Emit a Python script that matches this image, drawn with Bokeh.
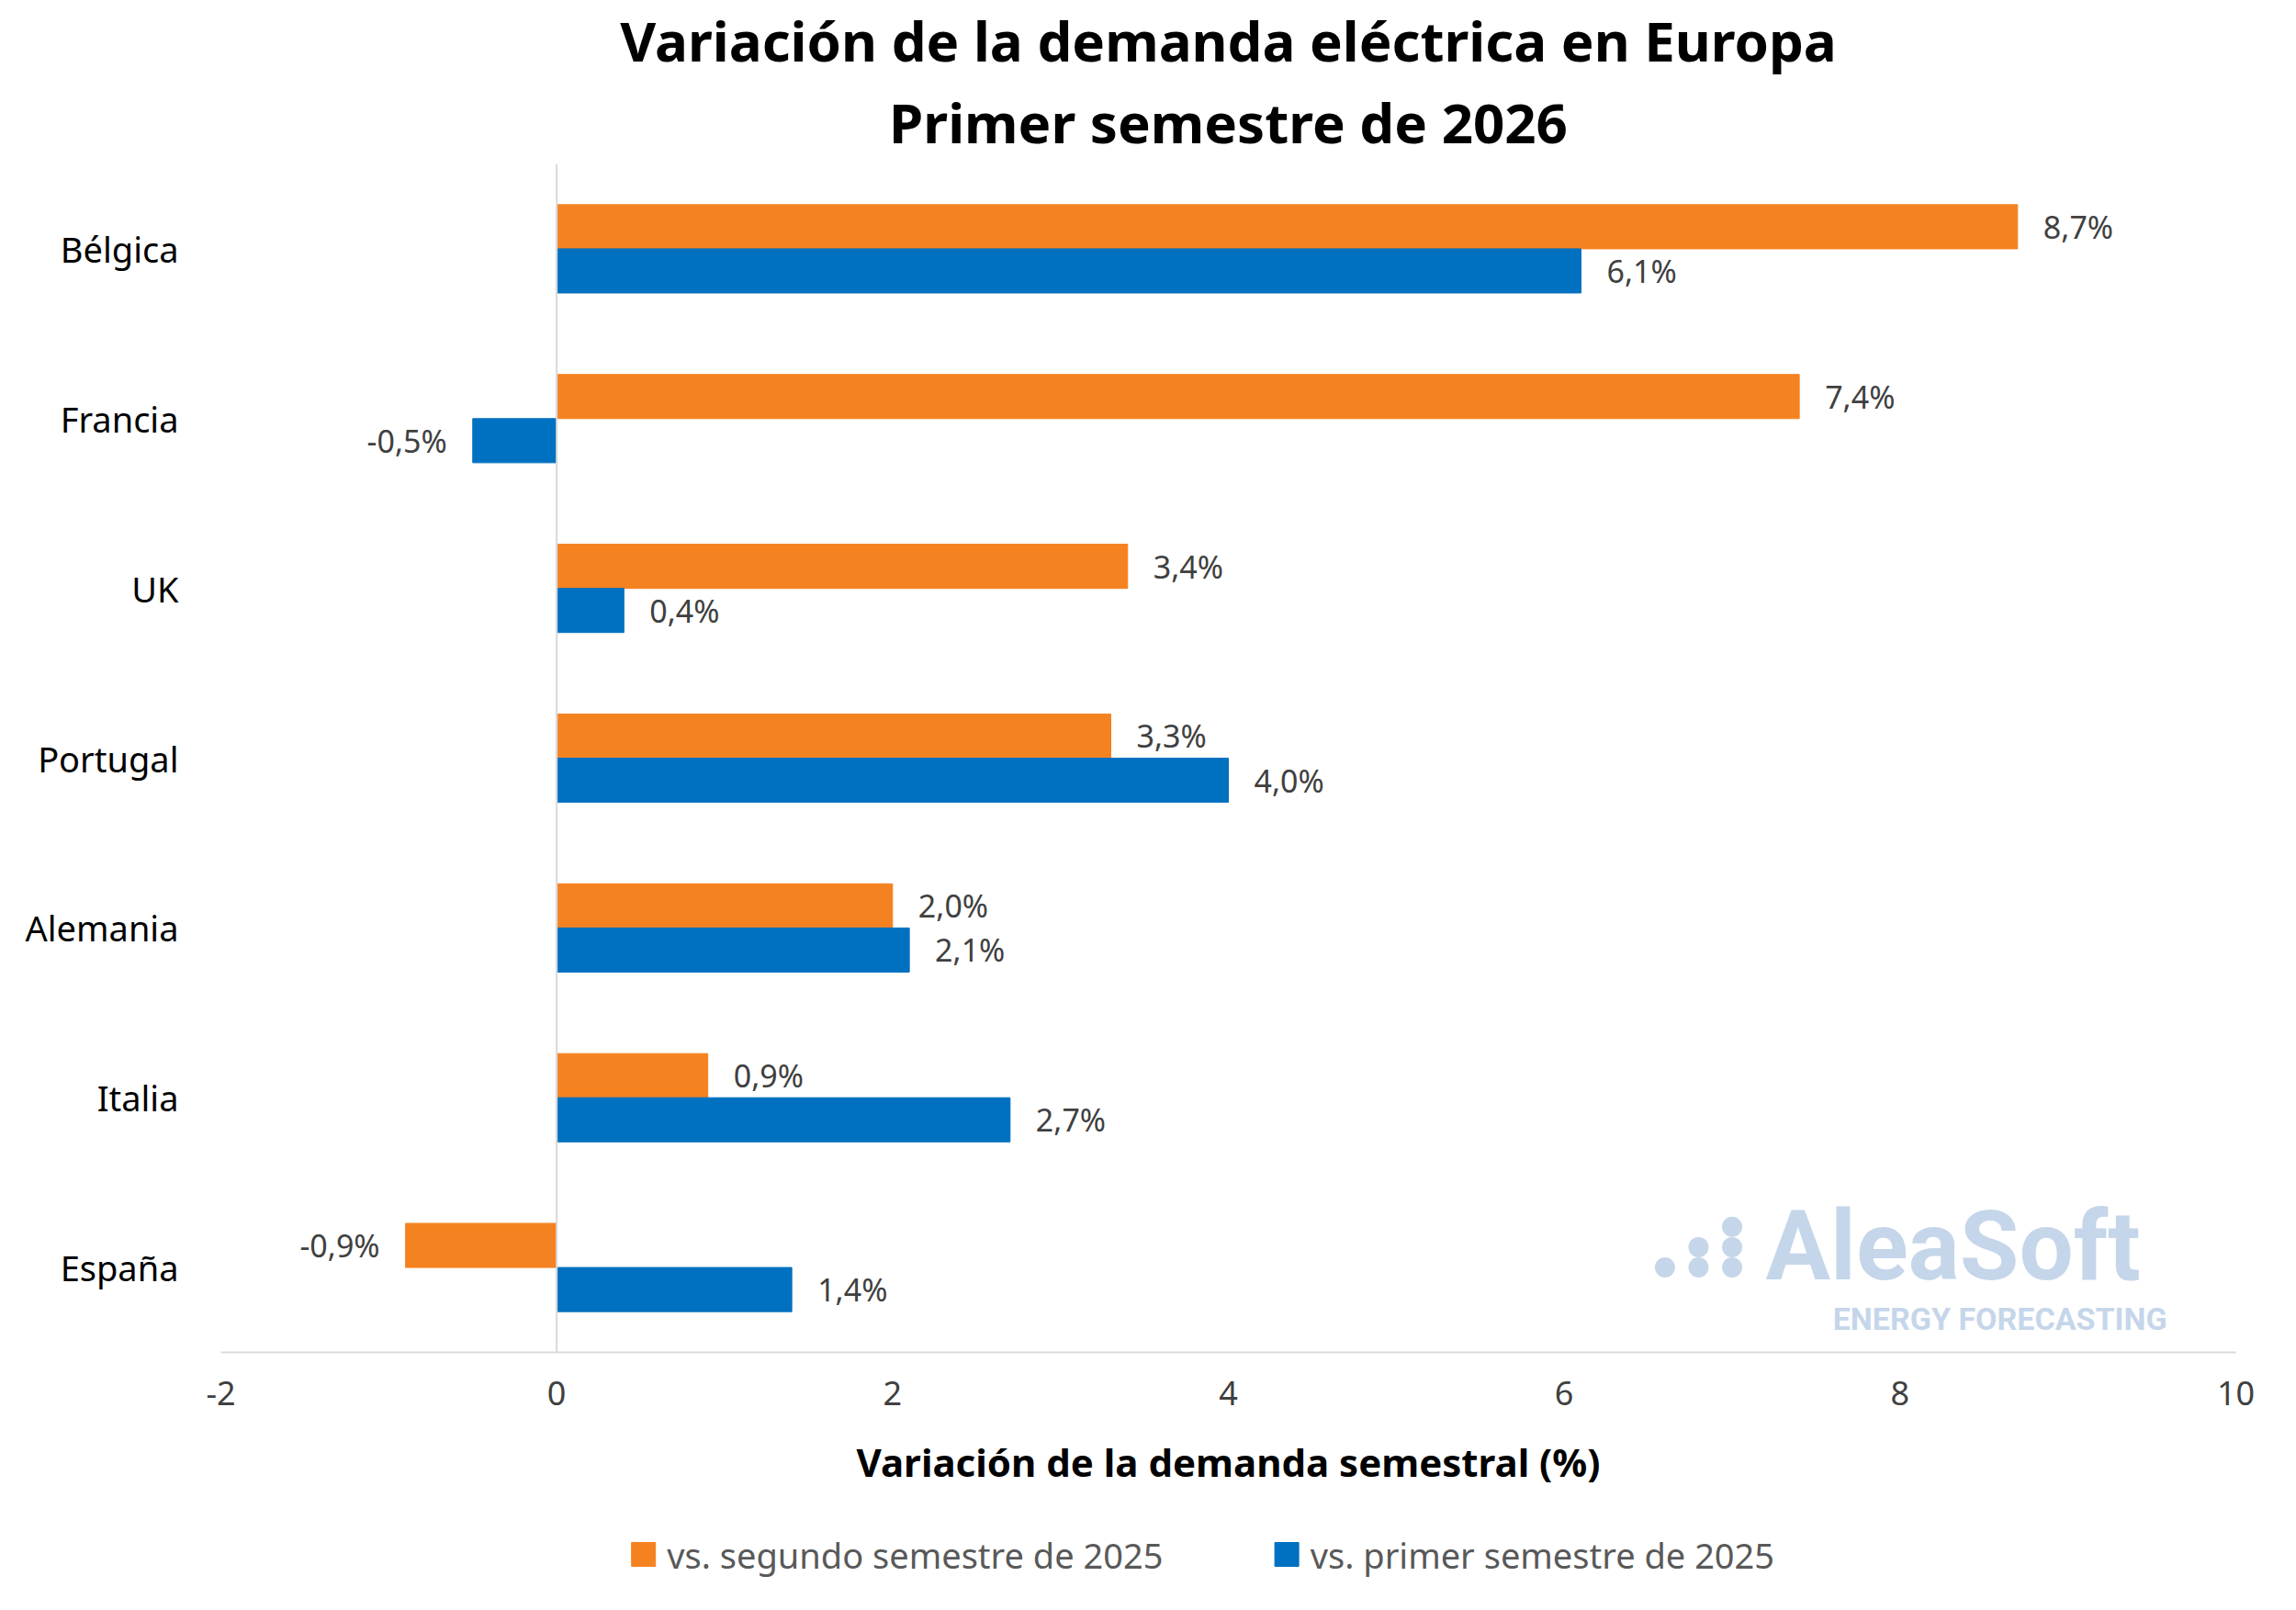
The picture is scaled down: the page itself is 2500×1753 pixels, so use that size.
from bokeh.plotting import figure
from bokeh.models import ColumnDataSource, Span, Label, Title
from bokeh.layouts import column
from bokeh.transform import dodge
from bokeh.core.properties import value
from bokeh.embed import file_html
from bokeh.resources import INLINE

countries = ["España", "Italia", "Alemania", "Portugal", "UK", "Francia", "Bélgica"]
vs_s2_2025 = [-0.9, 0.9, 2.0, 3.3, 3.4, 7.4, 8.7]
vs_s1_2025 = [1.4, 2.7, 2.1, 4.0, 0.4, -0.5, 6.1]
series_names = ["vs. segundo semestre de 2025", "vs. primer semestre de 2025"]
orange = "#F58220"
blue = "#0070C0"
FONT = "Noto Sans"

def fmt(v):
    return ("%.1f%%" % v).replace(".", ",")

p = figure(width=2484, height=1647, y_range=countries, x_range=(-2, 10),
           output_backend="svg", toolbar_location=None,
           min_border_left=240, min_border_right=50, min_border_top=75, min_border_bottom=175)
p.add_layout(Title(text="Primer semestre de 2026", align="center", text_font=FONT,
                   text_font_size="60px", text_color="black", standoff=10, offset=-77), "above")
p.add_layout(Title(text="Variación de la demanda eléctrica en Europa", align="center", text_font=FONT,
                   text_font_size="60px", text_color="black", standoff=0, offset=-77), "above")
p.outline_line_color = None
p.xgrid.visible = False
p.ygrid.visible = False

src = ColumnDataSource(dict(c=countries, a=vs_s2_2025, b=vs_s1_2025))
p.hbar(y=dodge("c", 0.13, range=p.y_range), right="a", left=0, height=0.26, color=orange, source=src)
p.hbar(y=dodge("c", -0.13, range=p.y_range), right="b", left=0, height=0.26, color=blue, source=src)

for vals, off in [(vs_s2_2025, 0.13), (vs_s1_2025, -0.13)]:
    for sign, align, xo in [(1, "left", 28), (-1, "right", -28)]:
        idx = [i for i, v in enumerate(vals) if (v >= 0) == (sign > 0)]
        s = ColumnDataSource(dict(c=[countries[i] for i in idx], v=[vals[i] for i in idx],
                                  t=[fmt(vals[i]) for i in idx]))
        p.text(x="v", y=dodge("c", off, range=p.y_range), text="t", source=s,
               text_align=align, text_baseline="middle", x_offset=xo,
               text_font=value(FONT), text_font_size="34px", text_color="#404040")

p.add_layout(Span(location=0, dimension="height", line_color="#D9D9D9", line_width=2))

p.xaxis.axis_label = "Variación de la demanda semestral (%)"
p.xaxis.axis_label_text_font = FONT
p.xaxis.axis_label_text_font_style = "bold"
p.xaxis.axis_label_text_font_size = "42px"
p.xaxis.axis_label_text_color = "black"
p.xaxis.axis_label_standoff = 30
p.xaxis.major_label_text_font = FONT
p.xaxis.major_label_text_font_size = "36px"
p.xaxis.major_label_text_color = "#404040"
p.xaxis.major_label_standoff = 25
p.xaxis.axis_line_color = "#D9D9D9"
p.xaxis.axis_line_width = 2
p.xaxis.major_tick_line_color = None
p.xaxis.minor_tick_line_color = None
p.xaxis.ticker = [-2, 0, 2, 4, 6, 8, 10]
p.xaxis.major_label_overrides = {-2: "-2"}
p.yaxis.axis_line_color = None
p.yaxis.major_tick_line_color = None
p.yaxis.minor_tick_line_color = None
p.yaxis.major_label_text_font = FONT
p.yaxis.major_label_text_font_size = "38px"
p.yaxis.major_label_text_color = "black"
p.yaxis.major_label_standoff = 40

p.add_layout(Label(x=7.2, y=0.62, text="AleaSoft", text_font="Roboto", text_font_style="bold",
                   text_font_size="105px", text_color="#C5D6EA", text_baseline="middle"))
p.add_layout(Label(x=7.6, y=0.2, text="ENERGY FORECASTING", text_font="Roboto", text_font_style="bold",
                   text_font_size="34px", text_color="#C5D6EA", text_baseline="middle"))
dots = ColumnDataSource(dict(x=[6.6, 6.8, 6.8, 7.0, 7.0, 7.0], y=[0.5, 0.5, 0.62, 0.5, 0.62, 0.74]))
p.scatter(x="x", y="y", source=dots, size=22, color="#C5D6EA", line_color=None)

# legend strip
lg = figure(width=2484, height=90, x_range=(0, 2484), y_range=(0, 90),
            output_backend="svg", toolbar_location=None, min_border=0)
lg.axis.visible = False
lg.grid.visible = False
lg.outline_line_color = None
lsrc = ColumnDataSource(dict(x=[521, 1314], y=[45, 45], c=[orange, blue],
                             tx=[550, 1343], t=series_names))
lg.scatter(x="x", y="y", color="c", marker="square", size=26, source=lsrc)
lg.text(x="tx", y="y", text="t", source=lsrc, text_baseline="middle",
        text_font=value(FONT), text_font_size="38px", text_color="#595959")

open("out.html", "w").write(file_html(column(p, lg, spacing=0), INLINE))
